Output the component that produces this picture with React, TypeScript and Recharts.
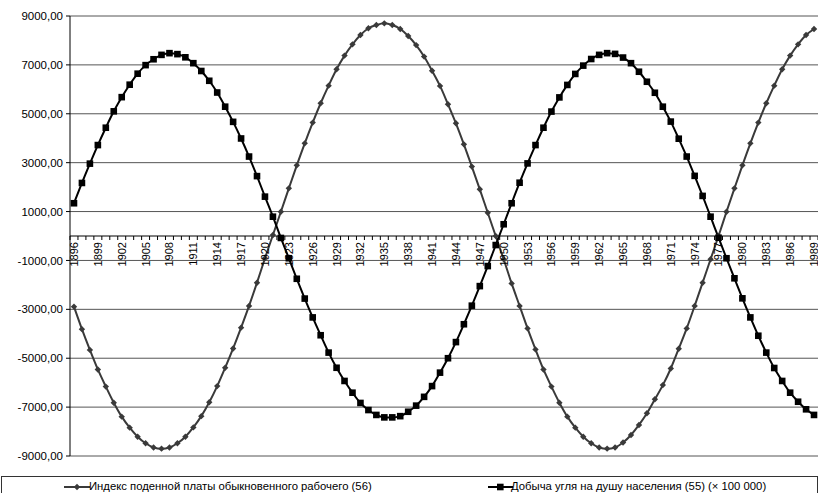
import React from "react";
import {
  LineChart,
  Line,
  XAxis,
  YAxis,
  CartesianGrid,
  ReferenceLine,
  Legend,
} from "recharts";

const years: number[] = [
  1896, 1897, 1898, 1899, 1900, 1901, 1902, 1903, 1904, 1905, 1906, 1907, 1908,
  1909, 1910, 1911, 1912, 1913, 1914, 1915, 1916, 1917, 1918, 1919, 1920, 1921,
  1922, 1923, 1924, 1925, 1926, 1927, 1928, 1929, 1930, 1931, 1932, 1933, 1934,
  1935, 1936, 1937, 1938, 1939, 1940, 1941, 1942, 1943, 1944, 1945, 1946, 1947,
  1948, 1949, 1950, 1951, 1952, 1953, 1954, 1955, 1956, 1957, 1958, 1959, 1960,
  1961, 1962, 1963, 1964, 1965, 1966, 1967, 1968, 1969, 1970, 1971, 1972, 1973,
  1974, 1975, 1976, 1977, 1978, 1979, 1980, 1981, 1982, 1983, 1984, 1985, 1986,
  1987, 1988, 1989,
];

// Индекс поденной платы обыкновенного рабочего (56)
const wageIndex: number[] = [
  -2890, -3810, -4660, -5460, -6160, -6820, -7390, -7840, -8210, -8480, -8650,
  -8700, -8650, -8480, -8210, -7830, -7370, -6800, -6140, -5390, -4600, -3750,
  -2860, -1910, -910, 40, 990, 1950, 2890, 3790, 4640, 5430, 6150, 6820, 7380,
  7840, 8220, 8500, 8630, 8700, 8630, 8470, 8180, 7810, 7340, 6760, 6140, 5390,
  4610, 3750, 2840, 1910, 950, 0, -950, -1940, -2860, -3780, -4640, -5460,
  -6160, -6820, -7390, -7840, -8210, -8480, -8650, -8700, -8650, -8450, -8140,
  -7730, -7250, -6680, -6100, -5420, -4610, -3780, -2860, -1910, -950, 0, 990,
  1950, 2890, 3790, 4640, 5430, 6150, 6820, 7380, 7840, 8220, 8470,
];

// Добыча угля на душу населения (55) (× 100 000)
const coalOutput: number[] = [
  1340, 2170, 2960, 3720, 4430, 5100, 5680, 6190, 6640, 6990, 7230, 7410, 7480,
  7440, 7310, 7070, 6750, 6350, 5870, 5290, 4670, 3990, 3250, 2450, 1610, 790,
  -80, -910, -1750, -2560, -3330, -4060, -4770, -5390, -5930, -6410, -6830,
  -7120, -7320, -7420, -7420, -7370, -7190, -6940, -6580, -6140, -5590, -5000,
  -4340, -3610, -2850, -2050, -1230, -370, 480, 1340, 2180, 2970, 3720, 4430,
  5090, 5670, 6180, 6630, 6970, 7240, 7410, 7480, 7450, 7300, 7070, 6720, 6310,
  5860, 5290, 4680, 3980, 3250, 2460, 1640, 790, -70, -910, -1730, -2550,
  -3330, -4080, -4770, -5400, -5930, -6410, -6780, -7090, -7320,
];

const yTicks: number[] = [
  -9000, -7000, -5000, -3000, -1000, 1000, 3000, 5000, 7000, 9000,
];

const xTickLabels: number[] = [
  1896, 1899, 1902, 1905, 1908, 1911, 1914, 1917, 1920, 1923, 1926, 1929, 1932,
  1935, 1938, 1941, 1944, 1947, 1950, 1953, 1956, 1959, 1962, 1965, 1968, 1971,
  1974, 1977, 1980, 1983, 1986, 1989,
];

const seriesNames = {
  wage: "Индекс поденной платы обыкновенного рабочего (56)",
  coal: "Добыча угля на душу населения (55) (× 100 000)",
};

const data = years.map((y, i) => ({
  year: y,
  wage: wageIndex[i],
  coal: coalOutput[i],
}));

const FONT = '"Liberation Sans", Arial, sans-serif';
const CHART_W = 818;
const CHART_H = 493;
const X_AXIS_H = 1;
const MARGIN = { top: 16, right: 0, left: 0, bottom: 16 };
const LEGEND_H = 20;
const Y_AXIS_W = 70;
const PLOT_W = CHART_W - Y_AXIS_W - MARGIN.left - MARGIN.right;
const PLOT_H = CHART_H - MARGIN.top - MARGIN.bottom - LEGEND_H - X_AXIS_H;
const BAND = PLOT_W / years.length;

const WAGE_COLOR = "#3a3a3a";
const COAL_COLOR = "#000000";

const fmt = (v: number) => v.toFixed(2).replace(".", ",");

const XTick = (props: any) => {
  const { x, y, payload } = props;
  const index = payload && payload.index != null ? payload.index : props.index;
  const zeroY = y - PLOT_H / 2;
  const showLabel = xTickLabels.includes(Number(payload.value));
  const isLast = index === years.length - 1;
  return (
    <g>
      <line
        x1={x - BAND / 2}
        x2={x - BAND / 2}
        y1={zeroY}
        y2={zeroY + 4}
        stroke="#000"
        strokeWidth={1}
      />
      {isLast && (
        <line
          x1={x + BAND / 2}
          x2={x + BAND / 2}
          y1={zeroY}
          y2={zeroY + 4}
          stroke="#000"
          strokeWidth={1}
        />
      )}
      {showLabel && (
        <text
          x={x}
          y={zeroY + 6}
          dy="0.36em"
          textAnchor="end"
          transform={`rotate(-90, ${x}, ${zeroY + 6})`}
          fontFamily={FONT}
          fontSize={11}
          fill="#000"
        >
          {payload.value}
        </text>
      )}
    </g>
  );
};

const SquareDot = (props: any) => {
  const { cx, cy, index } = props;
  if (cx == null || cy == null) return <g key={`s-${index}`} />;
  const s = 3.3;
  return (
    <rect
      key={`s-${index}`}
      x={cx - s}
      y={cy - s}
      width={s * 2}
      height={s * 2}
      fill={COAL_COLOR}
    />
  );
};

const DiamondDot = (props: any) => {
  const { cx, cy, index } = props;
  if (cx == null || cy == null) return <g key={`d-${index}`} />;
  const r = 3.2;
  return (
    <polygon
      key={`d-${index}`}
      points={`${cx},${cy - r} ${cx + r},${cy} ${cx},${cy + r} ${cx - r},${cy}`}
      fill={WAGE_COLOR}
    />
  );
};

const LegendContent = () => {
  const itemText: React.CSSProperties = {
    position: "absolute",
    top: 0,
    lineHeight: `${LEGEND_H - 2}px`,
    fontFamily: FONT,
    fontSize: 11.3,
    color: "#000",
    whiteSpace: "nowrap",
  };
  return (
    <div
      style={{
        position: "relative",
        width: "100%",
        height: LEGEND_H,
        boxSizing: "border-box",
        border: "1px solid #333",
        background: "#fff",
      }}
    >
      <svg
        width={30}
        height={LEGEND_H - 2}
        style={{ position: "absolute", left: 60, top: 0 }}
      >
        <line x1={2} x2={28} y1={10} y2={10} stroke={WAGE_COLOR} strokeWidth={2} />
        <polygon points="15,6.8 18.2,10 15,13.2 11.8,10" fill={WAGE_COLOR} />
      </svg>
      <span style={{ ...itemText, left: 87 }}>{seriesNames.wage}</span>
      <svg
        width={30}
        height={LEGEND_H - 2}
        style={{ position: "absolute", left: 483, top: 0 }}
      >
        <line x1={3} x2={28} y1={10} y2={10} stroke={COAL_COLOR} strokeWidth={2} />
        <rect x={12} y={6.7} width={6.6} height={6.6} fill={COAL_COLOR} />
      </svg>
      <span style={{ ...itemText, left: 509 }}>{seriesNames.coal}</span>
    </div>
  );
};

export default function App() {
  return (
    <div style={{ position: "absolute", left: 0, top: 0, background: "#fff" }}>
      <LineChart width={CHART_W} height={CHART_H} data={data} margin={MARGIN}>
        <CartesianGrid
          horizontal={true}
          vertical={false}
          stroke="#555"
          strokeWidth={1}
        />
        <ReferenceLine y={0} stroke="#000" strokeWidth={1} />
        <XAxis
          dataKey="year"
          type="category"
          interval={0}
          height={X_AXIS_H}
          tickSize={0}
          tickMargin={0}
          axisLine={false}
          tickLine={false}
          padding={{ left: BAND / 2, right: BAND / 2 }}
          tick={(p: any) => <XTick {...p} />}
        />
        <YAxis
          type="number"
          domain={[-9000, 9000]}
          ticks={yTicks}
          width={Y_AXIS_W}
          tickFormatter={fmt}
          tickSize={4}
          tickMargin={3}
          axisLine={{ stroke: "#000", strokeWidth: 1 }}
          tickLine={{ stroke: "#000", strokeWidth: 1 }}
          tick={{ fill: "#000", fontSize: 11.5, fontFamily: FONT }}
          allowDataOverflow={true}
        />
        <Legend
          verticalAlign="bottom"
          wrapperStyle={{ left: 1, top: 476, width: CHART_W - 1, height: LEGEND_H }}
          content={<LegendContent />}
        />
        <Line
          type="monotone"
          dataKey="wage"
          name={seriesNames.wage}
          stroke={WAGE_COLOR}
          strokeWidth={2}
          dot={DiamondDot}
          activeDot={false}
          isAnimationActive={false}
        />
        <Line
          type="monotone"
          dataKey="coal"
          name={seriesNames.coal}
          stroke={COAL_COLOR}
          strokeWidth={2}
          dot={SquareDot}
          activeDot={false}
          isAnimationActive={false}
        />
      </LineChart>
    </div>
  );
}
